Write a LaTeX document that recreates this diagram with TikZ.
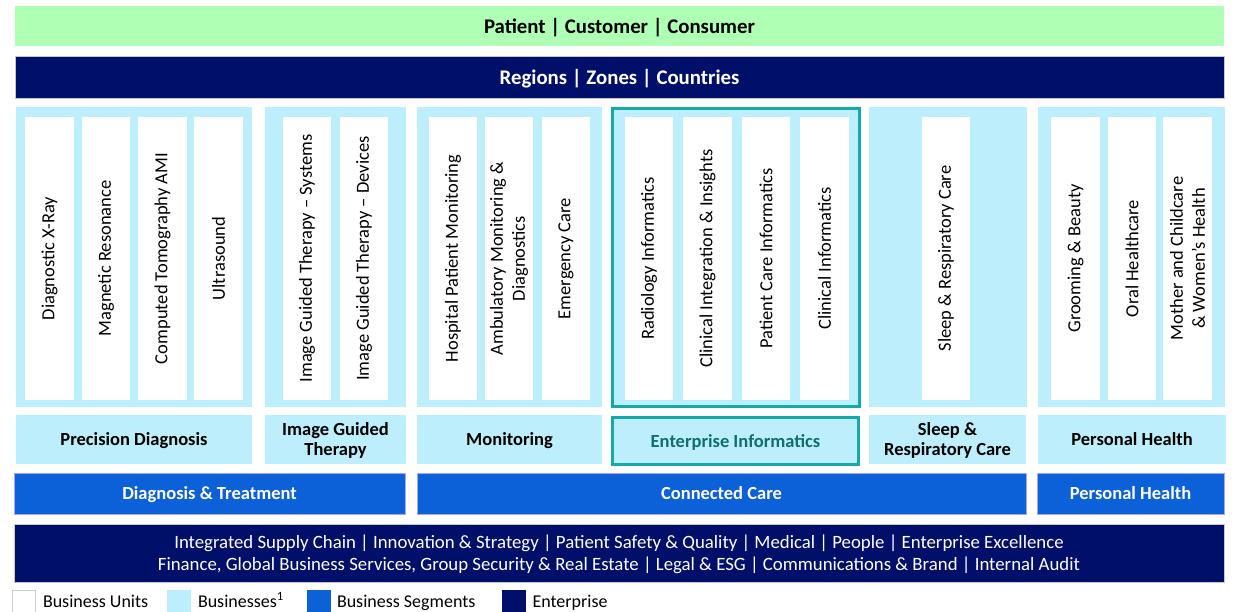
\documentclass[tikz,border=0pt]{standalone}
\usepackage{fontspec}
\setmainfont{Carlito}
\usepackage{tikz}
\usetikzlibrary{positioning}
\definecolor{custgreen}{HTML}{AFFFB4}
\definecolor{entnavy}{HTML}{000F69}
\definecolor{bizblue}{HTML}{BDEEFB}
\definecolor{segblue}{HTML}{0C60D8}
\definecolor{eiteal}{HTML}{14AAAA}
\definecolor{eitext}{HTML}{0F6E6E}

\begin{document}
\begin{tikzpicture}[x=1pt,y=-1pt,
    every node/.style={inner sep=0pt,outer sep=0pt,font=\fontsize{18.5}{22}\selectfont},
    bar/.style={rectangle,anchor=north west,align=center,text depth=0pt},
    topbar/.style={bar,fill=custgreen,font=\fontsize{20.8}{24}\selectfont\bfseries},
    navybar/.style={bar,fill=entnavy,draw=gray!45,line width=0.6pt,text=white},
    panel/.style={bar,fill=bizblue},
    eipanel/.style={bar,fill=bizblue,draw=eiteal,line width=3pt},
    unitbox/.style={rectangle,fill=white,rotate=90,align=center,
      minimum width=283,minimum height=48.5},
    tagbox/.style={bar,fill=bizblue,font=\fontsize{18.5}{20}\selectfont\bfseries},
    segbar/.style={bar,fill=segblue,draw=blue!35,line width=0.6pt,text=white,
      font=\fontsize{18.5}{22}\selectfont\bfseries},
    keybox/.style={rectangle,anchor=north west,minimum width=23.5,minimum height=24},
    keytext/.style={anchor=west,text height=12pt,text depth=4pt,font=\fontsize{18}{22}\selectfont},
  ]
  \useasboundingbox (0,0) rectangle (1233,612);
  % top rows
  \node[topbar,minimum width=1209,minimum height=40] (pcc) at (15,6) {Patient | Customer | Consumer};
  \node[navybar,minimum width=1209,minimum height=42,
    font=\fontsize{20.8}{24}\selectfont\bfseries] (rzc) at (15,56) {Regions | Zones | Countries};

  % businesses with their business units
  \node[panel,minimum width=236,minimum height=300] (pdpanel) at (16,107) {};
  \node[unitbox] (dxr) at (49.5,258.5) {Diagnostic X-Ray};
  \node[unitbox] (mr) at (106,258.5) {Magnetic Resonance};
  \node[unitbox] (ct) at (162.5,258.5) {Computed Tomography AMI};
  \node[unitbox] (us) at (218.5,258.5) {Ultrasound};

  \node[panel,minimum width=141,minimum height=300] (igtpanel) at (265,107) {};
  \node[unitbox] (igts) at (307,258.5) {Image Guided Therapy -- Systems};
  \node[unitbox] (igtd) at (364,258.5) {Image Guided Therapy -- Devices};

  \node[panel,minimum width=185,minimum height=300] (monpanel) at (417,107) {};
  \node[unitbox] (hpm) at (453,258.5) {Hospital Patient Monitoring};
  \node[unitbox] (amd) at (509,258.5) {Ambulatory Monitoring \&\\Diagnostics};
  \node[unitbox] (ec) at (566,258.5) {Emergency Care};

  \node[eipanel,minimum width=247,minimum height=298] (eipanel) at (612.5,108.5) {};
  \node[unitbox] (ri) at (649,258.5) {Radiology Informatics};
  \node[unitbox] (cii) at (707.5,258.5) {Clinical Integration \& Insights};
  \node[unitbox] (pci) at (766,258.5) {Patient Care Informatics};
  \node[unitbox] (ci) at (824.5,258.5) {Clinical Informatics};

  \node[panel,minimum width=158,minimum height=300] (srcpanel) at (869,107) {};
  \node[unitbox] (src) at (946,258.5) {Sleep \& Respiratory Care};

  \node[panel,minimum width=187,minimum height=300] (phpanel) at (1038,107) {};
  \node[unitbox] (gb) at (1075.5,258.5) {Grooming \& Beauty};
  \node[unitbox] (oh) at (1132,258.5) {Oral Healthcare};
  \node[unitbox] (mcw) at (1187.5,258.5) {Mother and Childcare\\\& Women’s Health};

  % business names
  \node[tagbox,minimum width=236,minimum height=49] (pdtag) at (16,415) {Precision Diagnosis};
  \node[tagbox,minimum width=141,minimum height=49] (igttag) at (265,415) {Image Guided\\Therapy};
  \node[tagbox,minimum width=185,minimum height=49] (montag) at (417,415) {Monitoring};
  \node[tagbox,draw=eiteal,line width=3pt,text=eitext,minimum width=246,minimum height=47]
    (eitag) at (612.5,417.5) {Enterprise Informatics};
  \node[tagbox,minimum width=157,minimum height=49] (srctag) at (869,415) {Sleep \&\\Respiratory Care};
  \node[tagbox,minimum width=188,minimum height=49] (phtag) at (1038,415) {Personal Health};

  % business segments
  \node[segbar,minimum width=391,minimum height=41] (dt) at (14,473) {Diagnosis \& Treatment};
  \node[segbar,minimum width=609,minimum height=41] (cc) at (417,473) {Connected Care};
  \node[segbar,minimum width=187,minimum height=41] (ph) at (1037,473) {Personal Health};

  % enterprise functions
  \node[navybar,minimum width=1210,minimum height=58,font=\fontsize{18.8}{22}\selectfont] (ent) at (14,524)
    {Integrated Supply Chain | Innovation \& Strategy | Patient Safety \& Quality | Medical | People | Enterprise Excellence\\
     Finance, Global Business Services, Group Security \& Real Estate | Legal \& ESG | Communications \& Brand | Internal Audit};

  % legend
  \node[keybox,fill=white,draw=gray!40] (keybu) at (12,590) {};
  \node[keytext,right=7.5pt of keybu,yshift=-1pt] (txtbu) {Business Units};
  \node[keybox,fill=bizblue] (keybiz) at (167,590) {};
  \node[keytext,right=7.5pt of keybiz,yshift=-1pt] (txtbiz) {Businesses\textsuperscript{1}};
  \node[keybox,fill=segblue] (keyseg) at (307,590) {};
  \node[keytext,right=6.5pt of keyseg,yshift=-1pt] (txtseg) {Business Segments};
  \node[keybox,fill=entnavy] (keyent) at (502,590) {};
  \node[keytext,right=7pt of keyent,yshift=-1pt] (txtent) {Enterprise};
\end{tikzpicture}
\end{document}
